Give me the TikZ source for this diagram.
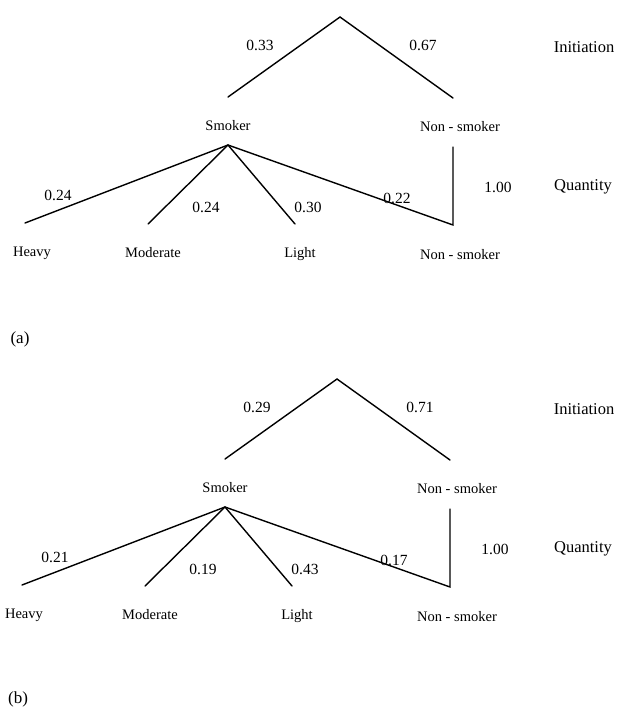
\documentclass[tikz,border=0pt]{standalone}
\usepackage{fontspec}
\setmainfont{Liberation Serif}
\begin{document}
\begin{tikzpicture}[x=1pt,y=-1pt,
  lbl/.style={inner sep=0pt,font=\fontsize{14.5}{16}\selectfont},
  num/.style={inner sep=0pt,font=\fontsize{15.5}{17}\selectfont},
  lvl/.style={inner sep=0pt,font=\fontsize{16.5}{18}\selectfont},
  capt/.style={inner sep=0pt,font=\fontsize{17}{19}\selectfont},
  branch/.style={line width=1.4pt,line cap=round,line join=miter}]
\useasboundingbox (0,0) rectangle (618,707);
% ---------- (a) ----------
\begin{scope}
\coordinate (aA) at (340,17);
\coordinate (aSL) at (228,97);
\coordinate (aNL) at (453,98);
\node[lbl] (aS) at (228,126) {Smoker};
\node[lbl] (aN) at (460,127) {Non - smoker};
\coordinate (aJ) at (228,145);
\coordinate (aV) at (453,147);
\coordinate (aH) at (25,223);
\coordinate (aM) at (148,224);
\coordinate (aL) at (295,224);
\coordinate (aNE) at (453,225);
\draw[branch] (aSL) -- (aA) -- (aNL);
\draw[branch] (aJ) -- (aH);
\draw[branch] (aJ) -- (aM);
\draw[branch] (aJ) -- (aL);
\draw[branch] (aJ) -- (aNE) -- (aV);
\node[num] (ap1) at (260,45) {0.33};
\node[num] (ap2) at (423,45) {0.67};
\node[num] (ap3) at (58,195) {0.24};
\node[num] (ap4) at (206,207) {0.24};
\node[num] (ap5) at (308,207) {0.30};
\node[num] (ap6) at (397,198) {0.22};
\node[num] (ap7) at (498,187) {1.00};
\node[lvl] (aInit) at (584,47) {Initiation};
\node[lvl] (aQty) at (583,187) {Quantity};
\node[lbl] (aHv) at (32,253) {Heavy};
\node[lbl] (aMd) at (153,253) {Moderate};
\node[lbl] (aLt) at (300,254) {Light};
\node[lbl] (aNs) at (460,255) {Non - smoker};
\node[capt] (acap) at (20,339) {(a)};
\end{scope}
% ---------- (b) ----------
\begin{scope}[shift={(-3,362)}]
\coordinate (bA) at (340,17);
\coordinate (bSL) at (228,97);
\coordinate (bNL) at (453,98);
\node[lbl] (bS) at (228,126) {Smoker};
\node[lbl] (bN) at (460,127) {Non - smoker};
\coordinate (bJ) at (228,145);
\coordinate (bV) at (453,147);
\coordinate (bH) at (25,223);
\coordinate (bM) at (148,224);
\coordinate (bL) at (295,224);
\coordinate (bNE) at (453,225);
\draw[branch] (bSL) -- (bA) -- (bNL);
\draw[branch] (bJ) -- (bH);
\draw[branch] (bJ) -- (bM);
\draw[branch] (bJ) -- (bL);
\draw[branch] (bJ) -- (bNE) -- (bV);
\node[num] (bp1) at (260,45) {0.29};
\node[num] (bp2) at (423,45) {0.71};
\node[num] (bp3) at (58,195) {0.21};
\node[num] (bp4) at (206,207) {0.19};
\node[num] (bp5) at (308,207) {0.43};
\node[num] (bp6) at (397,198) {0.17};
\node[num] (bp7) at (498,187) {1.00};
\node[lvl] (bInit) at (587,47) {Initiation};
\node[lvl] (bQty) at (586,187) {Quantity};
\node[lbl] (bHv) at (27,253) {Heavy};
\node[lbl] (bMd) at (153,253) {Moderate};
\node[lbl] (bLt) at (300,254) {Light};
\node[lbl] (bNs) at (460,255) {Non - smoker};
\node[capt] (bcap) at (21,337) {(b)};
\end{scope}
\end{tikzpicture}
\end{document}
